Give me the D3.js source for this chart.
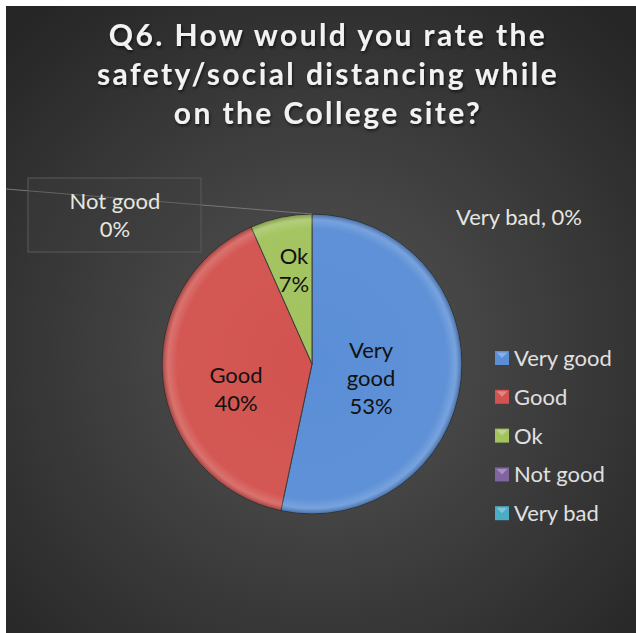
<!DOCTYPE html>
<html>
<head>
<meta charset="utf-8">
<script src="https://cdn.jsdelivr.net/npm/d3@7"></script>
<style>
  body { margin: 0; background: #fff; }
  svg text { font-family: Lato, "Open Sans", sans-serif; }
</style>
</head>
<body>
<svg id="chart" width="636" height="633"></svg>
<script>
const categories = ['Very good', 'Good', 'Ok', 'Not good', 'Very bad']
const counts = [8, 6, 1, 0, 0]
const colors = ['#5a8ed6', '#d2534f', '#a2c35e', '#8064a2', '#4bacc6']
const titleLines = ['Q6. How would you rate the', 'safety/social distancing while', 'on the College site?']

const svg = d3.select('#chart')
const W = 636, H = 633
const defs = svg.append('defs')

// background
const bg = defs.append('radialGradient').attr('id', 'bg')
  .attr('cx', '50%').attr('cy', '55%').attr('r', '70%')
bg.append('stop').attr('offset', '0%').attr('stop-color', '#555555')
bg.append('stop').attr('offset', '100%').attr('stop-color', '#262626')
svg.append('rect').attr('x', 6).attr('y', 6).attr('width', W - 6).attr('height', H - 6)
  .attr('fill', 'url(#bg)')

// title shadow
const f = defs.append('filter').attr('id', 'shadow').attr('x', '-10%').attr('y', '-20%').attr('width', '120%').attr('height', '140%')
f.append('feDropShadow').attr('dx', 1).attr('dy', 2).attr('stdDeviation', 1.5).attr('flood-color', '#000').attr('flood-opacity', 0.6)

svg.append('g').selectAll('text')
  .data(titleLines)
  .join('text')
    .attr('x', 328)
    .attr('y', (d, i) => 46 + i * 39)
    .attr('text-anchor', 'middle')
    .attr('fill', '#f2f2f2')
    .attr('font-size', 30)
    .attr('font-weight', 'bold')
    .attr('letter-spacing', 2.4)
    .attr('filter', 'url(#shadow)')
    .text(d => d)

// pie
const cx = 312, cy = 364, r = 150
const data = categories.map((c, i) => ({ name: c, value: counts[i], color: colors[i] }))
const total = d3.sum(counts)
const pie = d3.pie().value(d => d.value).sort(null)
const arcs = pie(data)
const arc = d3.arc().innerRadius(0).outerRadius(r)

const g = svg.append('g').attr('transform', `translate(${cx},${cy})`)

// bevel overlay gradient
const bev = defs.append('radialGradient').attr('id', 'bevel')
  .attr('cx', 0).attr('cy', 0).attr('r', r).attr('gradientUnits', 'userSpaceOnUse')
bev.append('stop').attr('offset', '0%').attr('stop-color', '#fff').attr('stop-opacity', 0)
bev.append('stop').attr('offset', '90%').attr('stop-color', '#fff').attr('stop-opacity', 0.03)
bev.append('stop').attr('offset', '96%').attr('stop-color', '#fff').attr('stop-opacity', 0.18)
bev.append('stop').attr('offset', '100%').attr('stop-color', '#000').attr('stop-opacity', 0.25)

g.selectAll('path.slice')
  .data(arcs.filter(d => d.value > 0))
  .join('path')
    .attr('class', 'slice')
    .attr('d', arc)
    .attr('fill', d => d.data.color)
    .attr('stroke', '#3a3a3a')
    .attr('stroke-width', 1)

g.selectAll('path.bevel')
  .data(arcs.filter(d => d.value > 0))
  .join('path')
    .attr('class', 'bevel')
    .attr('d', arc)
    .attr('fill', 'url(#bevel)')

// leader line for zero slice label
svg.append('line')
  .attr('x1', 6).attr('y1', 189)
  .attr('x2', cx).attr('y2', cy - r)
  .attr('stroke', '#777').attr('stroke-width', 1)

// in-slice labels
const labelPos = {
  'Very good': [371, 358],
  'Good': [236, 383],
  'Ok': [294, 264]
}
const lines = {
  'Very good': ['Very', 'good'],
  'Good': ['Good'],
  'Ok': ['Ok']
}
const fmt = d => Math.round(d.value / total * 100) + '%'

arcs.filter(d => d.value > 0).forEach(d => {
  const p = labelPos[d.data.name]
  const ls = lines[d.data.name].concat([fmt(d)])
  svg.append('g').selectAll('text')
    .data(ls)
    .join('text')
      .attr('x', p[0])
      .attr('y', (t, i) => p[1] + i * 28)
      .attr('text-anchor', 'middle')
      .attr('font-size', 22)
      .attr('fill', '#111')
      .text(t => t)
})

// zero-value labels
const ng = arcs.find(d => d.data.name === 'Not good')
svg.append('rect').attr('x', 28).attr('y', 178).attr('width', 173).attr('height', 74)
  .attr('fill', '#3f3f3f').attr('fill-opacity', 0.35).attr('stroke', '#5a5a5a')
svg.append('g').selectAll('text')
  .data([ng.data.name, fmt(ng)])
  .join('text')
    .attr('x', 115)
    .attr('y', (t, i) => 209 + i * 28)
    .attr('text-anchor', 'middle')
    .attr('font-size', 22)
    .attr('fill', '#e6e6e0')
    .text(t => t)

const vb = arcs.find(d => d.data.name === 'Very bad')
svg.append('text')
  .attr('x', 456).attr('y', 225)
  .attr('font-size', 22)
  .attr('fill', '#e6e6e0')
  .text(vb.data.name + ', ' + fmt(vb))

// legend
const legend = svg.append('g').selectAll('g')
  .data(data)
  .join('g')
    .attr('transform', (d, i) => `translate(495,${358 + i * 38.8})`)
legend.append('rect')
  .attr('x', 0).attr('y', -7).attr('width', 14).attr('height', 14)
  .attr('fill', d => d.color)
legend.append('path')
  .attr('d', 'M1.5,-5.5 L12.5,-5.5 L7,0 Z')
  .attr('fill', '#fff').attr('fill-opacity', 0.3)
legend.append('text')
  .attr('x', 19).attr('y', 8)
  .attr('font-size', 22)
  .attr('fill', '#e0e0e0')
  .text(d => d.name)
</script>
</body>
</html>
